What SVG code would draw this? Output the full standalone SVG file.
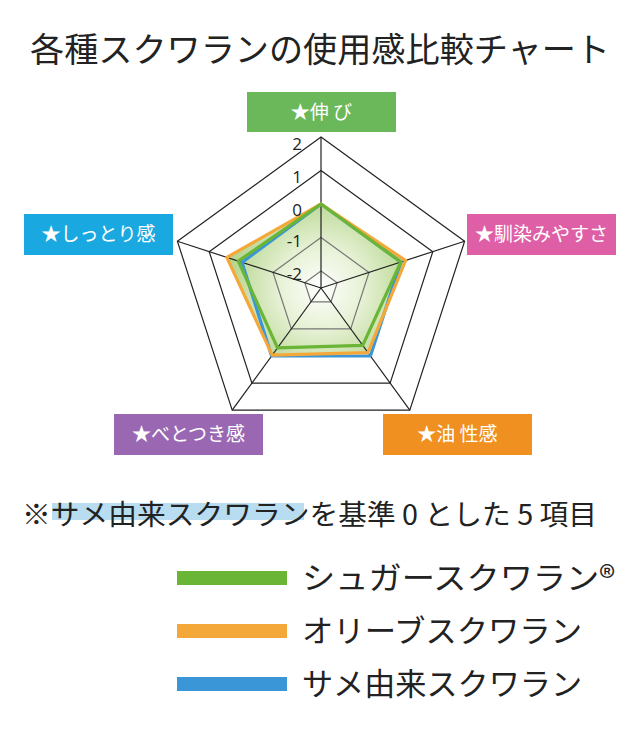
<svg xmlns="http://www.w3.org/2000/svg" width="640" height="739" viewBox="0 0 640 739">
<style>
text{font-family:"Noto Sans CJK JP","Noto Sans",sans-serif;}
.t{font-size:34px;fill:#222;}
.lab{font-size:19px;fill:#fff;text-anchor:middle;}
.ax{font-size:17px;fill:#222;text-anchor:end;font-family:"Open Sans","Noto Sans",sans-serif;}
.g1{fill:none;stroke:#222;stroke-width:1.2;}
.g2{fill:none;stroke:#777;stroke-width:1.2;}
.s{fill:none;stroke-width:3.2;stroke-linejoin:round;}
.leg{font-size:31px;fill:#222;}
</style>
<defs>
<radialGradient id="rg" cx="321" cy="288" r="95" gradientUnits="userSpaceOnUse">
<stop offset="0" stop-color="#ffffff"/>
<stop offset="0.45" stop-color="#e6f1d4"/>
<stop offset="1" stop-color="#b3d48a"/>
</radialGradient>
</defs>
<rect width="640" height="739" fill="#fff"/>
<text class="t" x="320" y="62" text-anchor="middle" textLength="580" lengthAdjust="spacingAndGlyphs">各種スクワランの使用感比較チャート</text>
<g id="chart">
<polygon points="321,204 405.6,260.5 368,352.7 272.2,355.1 226.8,257.4" fill="url(#rg)"/>
<polygon class="g1" points="321,137 464.6,241.3 409.8,410.2 232.2,410.2 177.4,241.3"/>
<polygon class="g1" points="321,170.5 432.8,251.7 390.1,383.1 251.9,383.1 209.2,251.7"/>
<polygon class="g2" points="321,237.5 369,272.4 350.7,328.9 291.3,328.9 273,272.4"/>
<polygon class="g2" points="321,271 337.2,282.7 331,301.8 311,301.8 304.8,282.7"/>
<g stroke="#222" stroke-width="1.2">
<line x1="321" y1="288" x2="321" y2="137"/>
<line x1="321" y1="288" x2="464.6" y2="241.3"/>
<line x1="321" y1="288" x2="409.8" y2="410.2"/>
<line x1="321" y1="288" x2="232.2" y2="410.2"/>
<line x1="321" y1="288" x2="177.4" y2="241.3"/>
</g>
<polygon class="s" stroke="#3a96d6" points="321,204 400.9,262 370.4,356 271.6,356 242,262.4"/>
<polygon class="s" stroke="#f5a83a" points="321,204 405.6,260.5 368,352.7 272.2,355.1 226.8,257.4"/>
<polygon class="s" stroke="#6ab536" points="321,204 400.9,262 362.7,345.4 277.5,347.9 238.3,261.1" fill="#a6cc78" fill-opacity="0.35"/>
<text class="ax" x="302" y="150">2</text>
<text class="ax" x="302" y="183">1</text>
<text class="ax" x="302" y="216">0</text>
<text class="ax" x="302" y="247">-1</text>
<text class="ax" x="302" y="280">-2</text>
</g>
<g id="n-nobi"><rect x="247" y="92" width="149" height="40" fill="#6ab85a"/><text class="lab" x="321.5" y="119">★伸 び</text></g>
<g id="n-najimi"><rect x="467" y="214" width="149" height="41" fill="#df5fa6"/><text class="lab" x="541.5" y="241">★馴染みやすさ</text></g>
<g id="n-shittori"><rect x="24" y="214" width="149" height="41" fill="#1aa8e0"/><text class="lab" x="98.5" y="241">★しっとり感</text></g>
<g id="n-betotsuki"><rect x="114" y="414" width="149" height="41" fill="#9a68b2"/><text class="lab" x="188.5" y="441">★べとつき感</text></g>
<g id="n-yusei"><rect x="383" y="414" width="149" height="41" fill="#f09020"/><text class="lab" x="457.5" y="441">★油 性感</text></g>
<rect x="52" y="503" width="252" height="17" fill="#b8dcf0"/>
<text x="22" y="525" font-size="28" fill="#222" textLength="575" lengthAdjust="spacingAndGlyphs">※サメ由来スクワランを基準 0 とした 5 項目</text>
<g id="legend">
<rect x="177" y="571" width="110" height="14" fill="#6ab536"/>
<text class="leg" x="302" y="589" textLength="313" lengthAdjust="spacingAndGlyphs">シュガースクワラン®</text>
<rect x="177" y="624" width="110" height="14" fill="#f5a83a"/>
<text class="leg" x="302" y="642" textLength="280" lengthAdjust="spacingAndGlyphs">オリーブスクワラン</text>
<rect x="177" y="677" width="110" height="14" fill="#3a96d6"/>
<text class="leg" x="302" y="695" textLength="280" lengthAdjust="spacingAndGlyphs">サメ由来スクワラン</text>
</g>
</svg>
